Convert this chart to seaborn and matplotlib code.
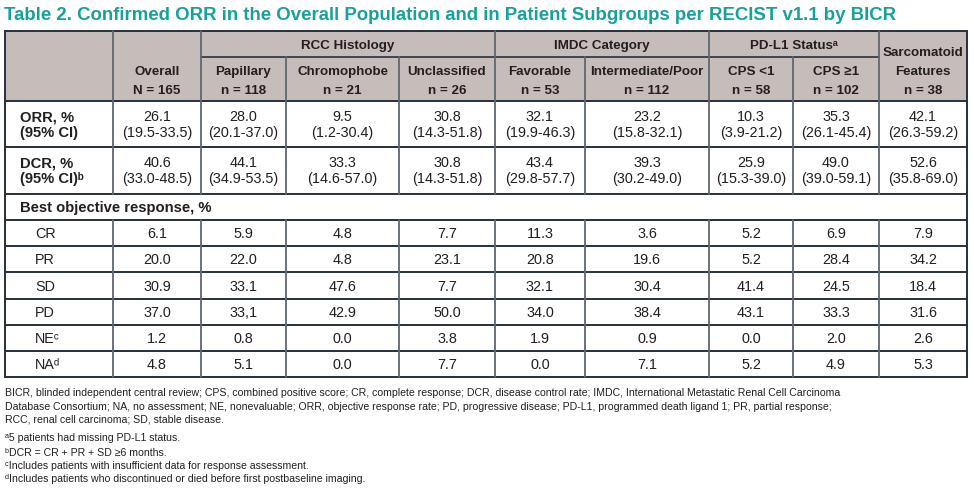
import numpy as np
import pandas as pd
import matplotlib
matplotlib.use('Agg')
import matplotlib.pyplot as plt
import seaborn as sns

# ---- table content ----
title = 'Table 2. Confirmed ORR in the Overall Population and in Patient Subgroups per RECIST v1.1 by BICR'
groups = ['RCC Histology', 'IMDC Category', 'PD-L1 Status\u1d43']
group_span = [(1, 4), (4, 6), (6, 8)]   # column index ranges (start, stop)
col_labels = ['Overall', 'Papillary', 'Chromophobe', 'Unclassified', 'Favorable',
              'Intermediate/Poor', 'CPS <1', 'CPS \u22651', 'Sarcomatoid\nFeatures']
col_n = ['N = 165', 'n = 118', 'n = 21', 'n = 26', 'n = 53', 'n = 112',
         'n = 58', 'n = 102', 'n = 38']

orr = ['26.1', '28.0', '9.5', '30.8', '32.1', '23.2', '10.3', '35.3', '42.1']
orr_ci = ['(19.5-33.5)', '(20.1-37.0)', '(1.2-30.4)', '(14.3-51.8)', '(19.9-46.3)',
          '(15.8-32.1)', '(3.9-21.2)', '(26.1-45.4)', '(26.3-59.2)']
dcr = ['40.6', '44.1', '33.3', '30.8', '43.4', '39.3', '25.9', '49.0', '52.6']
dcr_ci = ['(33.0-48.5)', '(34.9-53.5)', '(14.6-57.0)', '(14.3-51.8)', '(29.8-57.7)',
          '(30.2-49.0)', '(15.3-39.0)', '(39.0-59.1)', '(35.8-69.0)']

bor_labels = ['CR', 'PR', 'SD', 'PD', 'NE\u1d9c', 'NA\u1d48']
cr = ['6.1', '5.9', '4.8', '7.7', '11.3', '3.6', '5.2', '6.9', '7.9']
pr = ['20.0', '22.0', '4.8', '23.1', '20.8', '19.6', '5.2', '28.4', '34.2']
sd = ['30.9', '33.1', '47.6', '7.7', '32.1', '30.4', '41.4', '24.5', '18.4']
pd_ = ['37.0', '33,1', '42.9', '50.0', '34.0', '38.4', '43.1', '33.3', '31.6']
ne = ['1.2', '0.8', '0.0', '3.8', '1.9', '0.9', '0.0', '2.0', '2.6']
na = ['4.8', '5.1', '0.0', '7.7', '0.0', '7.1', '5.2', '4.9', '5.3']

footnotes = [
    'BICR, blinded independent central review; CPS, combined positive score; CR, complete response; DCR, disease control rate; IMDC, International Metastatic Renal Cell Carcinoma',
    'Database Consortium; NA, no assessment; NE, nonevaluable; ORR, objective response rate; PD, progressive disease; PD-L1, programmed death ligand 1; PR, partial response;',
    'RCC, renal cell carcinoma; SD, stable disease.',
    '\u1d435 patients had missing PD-L1 status.',
    '\u1d47DCR = CR + PR + SD \u22656 months.',
    '\u1d9cIncludes patients with insufficient data for response assessment.',
    '\u1d48Includes patients who discontinued or died before first postbaseline imaging.',
]

bor = pd.DataFrame([cr, pr, sd, pd_, ne, na], index=bor_labels, columns=col_n)

# ---- style ----
sns.set_theme(style='white')
plt.rcParams['font.family'] = ['Liberation Sans', 'DejaVu Sans']

teal = '#17a19c'
head_bg = '#c6bdba'
hline = '#27313e'
vline = '#5e6772'
txt = '#231f20'

fig = plt.figure(figsize=(9.74, 4.93), dpi=100)
ax = fig.add_axes([0, 0, 1, 1])
ax.set_xlim(0, 974)
ax.set_ylim(493, 0)
ax.axis('off')


def put(x, y, s, size, bold=False, ha='center', color=txt):
    # place text so that capital letters are centred on y
    base = y + 0.716 * size * 100 / 72 / 2
    ax.text(x, base, s, fontsize=size, fontweight='bold' if bold else 'normal',
            color=color, ha=ha, va='baseline')


# layout (pixel grid)
xe = [5, 113, 201, 286, 399, 495, 585, 709, 793, 879, 967]
xc = [(xe[i] + xe[i + 1]) / 2 for i in range(len(xe) - 1)]
y_top, y_mid, y_head = 31, 57, 101
y_orr, y_dcr, y_best = 147, 194, 220
rh = (377 - 220) / 6
y_rows = [y_best + rh * k for k in range(7)]
y_bot = y_rows[-1]

hs, bs, ls = 9.6, 10.4, 10.6

# header background
ax.add_patch(plt.Rectangle((xe[0], y_top), xe[-1] - xe[0], y_head - y_top,
                           color=head_bg, lw=0, zorder=0))

put(4, 13, title, 13.4, bold=True, ha='left', color=teal)

# header text
for g, (a, b) in zip(groups, group_span):
    put((xe[a + 1] + xe[b + 1]) / 2, 44, g, hs, bold=True)
for i, (lab, n) in enumerate(zip(col_labels, col_n)):
    if '\n' in lab:
        l1, l2 = lab.split('\n')
        put(xc[i + 1], 51, l1, hs, bold=True)
        put(xc[i + 1], 70, l2, hs, bold=True)
    else:
        put(xc[i + 1], 70, lab, hs, bold=True)
    put(xc[i + 1], 89, n, hs, bold=True)

# ORR / DCR rows
for (lab1, lab2, vals, cis, y0) in [('ORR, %', '(95% CI)', orr, orr_ci, y_head),
                                     ('DCR, %', '(95% CI)\u1d47', dcr, dcr_ci, y_orr)]:
    put(20, y0 + 15, lab1, ls, bold=True, ha='left')
    put(20, y0 + 31, lab2, ls, bold=True, ha='left')
    for i, (v, c) in enumerate(zip(vals, cis)):
        put(xc[i + 1], y0 + 15, v, bs)
        put(xc[i + 1], y0 + 31, c, bs)

put(20, (y_dcr + y_best) / 2, 'Best objective response, %', ls, bold=True, ha='left')

for k, (lab, row) in enumerate(bor.iterrows()):
    yc = (y_rows[k] + y_rows[k + 1]) / 2
    put(35, yc, lab, bs, ha='left')
    for i, v in enumerate(row.values):
        put(xc[i + 1], yc, v, bs)

# grid lines
for y in [y_top, y_head, y_orr, y_dcr, y_best] + y_rows[1:]:
    ax.plot([xe[0], xe[-1]], [y, y], color=hline, lw=1.4, solid_capstyle='projecting')
ax.plot([xe[2], xe[9]], [y_mid, y_mid], color=hline, lw=1.2)
full_v = [1, 2, 5, 7, 9]
for j in range(1, 10):
    y_start = y_top if j in full_v else y_mid
    ax.plot([xe[j], xe[j]], [y_start, y_dcr], color=vline, lw=1.3)
    ax.plot([xe[j], xe[j]], [y_best, y_bot], color=vline, lw=1.3)
for x in [xe[0], xe[-1]]:
    ax.plot([x, x], [y_top, y_bot], color=hline, lw=1.4)

# footnotes
for y, t in zip([392, 406, 419, 437, 452, 465, 478], footnotes):
    put(5, y, t, 7.6, ha='left')

fig.savefig('out.png', dpi=100)
